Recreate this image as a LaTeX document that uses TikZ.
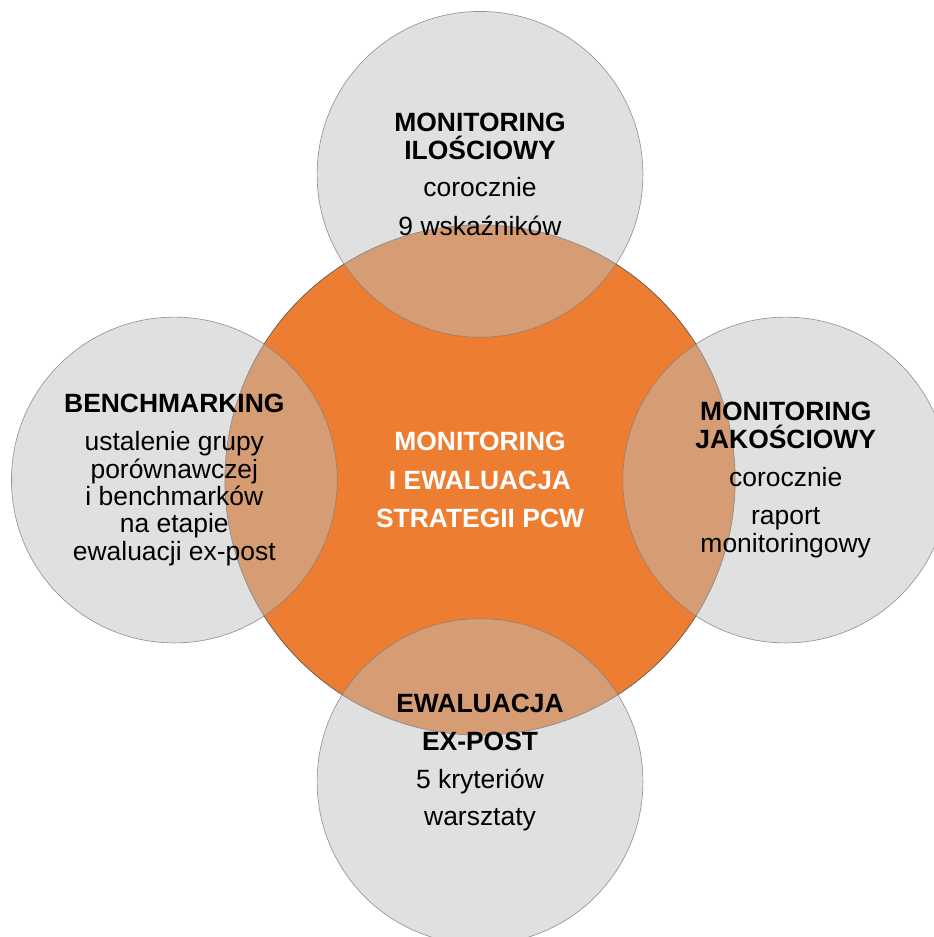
\documentclass[tikz,border=0pt]{standalone}
\usepackage{fontspec}
\setmainfont{Liberation Sans}
\usetikzlibrary{positioning}
\definecolor{pcworange}{HTML}{ED7D31}
\definecolor{satgray}{HTML}{BEBEBE}
\begin{document}
\begin{tikzpicture}[
        hub/.style={circle,fill=pcworange,draw=black!65,line width=.5pt,minimum size=13.5cm,inner sep=0pt,
            text=white,align=center,font=\bfseries\fontsize{19.9}{20.6}\selectfont},
        sat/.style={circle,fill=satgray,fill opacity=.48,text opacity=1,draw=black!50,draw opacity=.8,
            line width=.5pt,minimum size=8.62cm,inner sep=0pt,align=center,font=\fontsize{19.9}{20.6}\selectfont},
        sattext/.style={align=center,inner sep=0pt,font=\fontsize{19.9}{20.6}\selectfont}]
        \useasboundingbox (-12.70,-12.09) rectangle (12.01,12.70);
        \node[hub] (m) at (0,0) {MONITORING\\[8.2pt] I EWALUACJA\\[8.2pt] STRATEGII PCW};
        \node[sat,above=-2.99cm of m] (q) {\textbf{MONITORING}\\\textbf{ILOŚCIOWY}\\[7.8pt] corocznie\\[8.2pt] 9 wskaźników};
        \node[sat,right=-2.99cm of m] (j) {\textbf{MONITORING}\\\textbf{JAKOŚCIOWY}\\[8.2pt] corocznie\\[8.2pt] raport\\monitoringowy};
        \node[sat,left=-2.99cm of m] (b) {\textbf{BENCHMARKING}\\[7.8pt] ustalenie grupy\\porównawczej\\i benchmarków\\na etapie\\ewaluacji ex-post};
        \node[sat,below=-3.10cm of m] (e) {};
        \node[sattext] (et) at ([yshift=.5cm]e.center) {\textbf{EWALUACJA}\\[7.8pt]\textbf{EX-POST}\\[7.8pt] 5 kryteriów\\[7.8pt] warsztaty};
    \end{tikzpicture}
\end{document}
